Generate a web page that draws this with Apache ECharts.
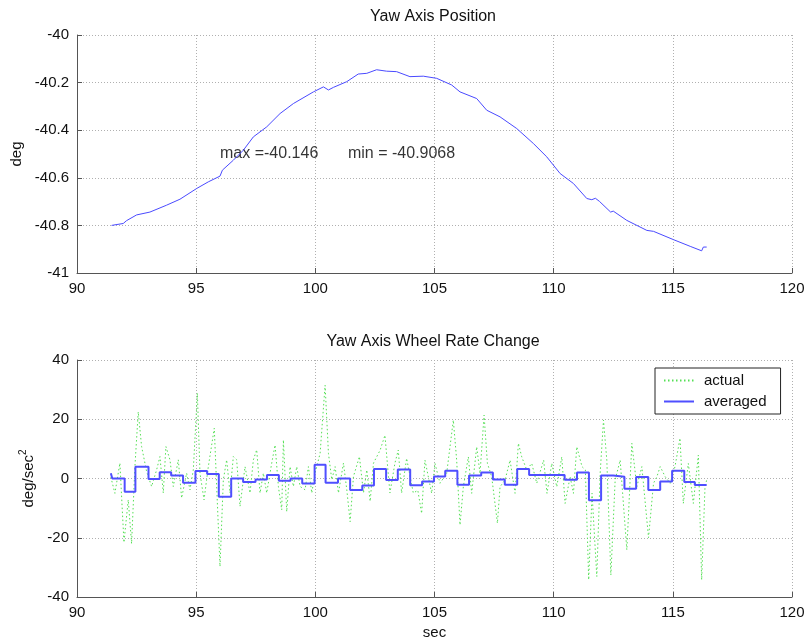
<!DOCTYPE html>
<html>
<head>
	<meta charset="utf-8" />
	<title>Yaw Axis</title>
	<script type="text/javascript" src="https://cdn.jsdelivr.net/npm/echarts@6/dist/echarts.min.js"></script>
	<style>
		html, body { margin: 0; padding: 0; background: #fff; }
		#main { width: 808px; height: 639px; }
	</style>
</head>
<body>
	<div id="main"></div>
	<script type="text/javascript">
		// top plot: yaw axis position (deg) vs time (sec)
		var posTime = [91.45, 91.94, 92.08, 92.5, 93.06, 93.76, 94.32, 95.02, 95.1, 95.51, 96.0, 96.1, 96.56, 96.98, 97.4, 97.96,
			98.52, 99.08, 99.92, 100.34, 100.55, 100.76, 101.32, 101.8, 102.16, 102.57, 102.99, 103.41, 103.97, 104.53, 105.09,
			105.72, 106.07, 106.77, 107.19, 107.75, 108.45, 109.15, 109.71, 110.27, 110.83, 111.39, 111.6, 111.75, 111.92, 112.39,
			112.5, 113.07, 113.91, 114.19, 115.03, 115.73, 116.21, 116.28, 116.42];
		var posDeg = [-40.800, -40.792, -40.780, -40.756, -40.744, -40.715, -40.690, -40.645, -40.652, -40.617, -40.593, -40.568,
			-40.526, -40.484, -40.428, -40.386, -40.330, -40.288, -40.239, -40.218, -40.231, -40.220, -40.196, -40.164, -40.161,
			-40.146, -40.152, -40.154, -40.175, -40.173, -40.182, -40.210, -40.239, -40.267, -40.316, -40.344, -40.393, -40.456,
			-40.512, -40.582, -40.624, -40.687, -40.692, -40.686, -40.699, -40.744, -40.740, -40.779, -40.821, -40.825, -40.860,
			-40.888, -40.9068, -40.891, -40.891];
		var annotX = [96, 101.37];
		var annotText = ['max =-40.146', 'min = -40.9068'];

		// bottom plot: wheel rate change (deg/sec^2)
		var actTime = [91.42, 91.59, 91.80, 91.97, 92.15, 92.29, 92.43, 92.57, 92.71, 92.92, 93.13, 93.34, 93.48, 93.62, 93.73,
			93.90, 94.04, 94.25, 94.39, 94.60, 94.74, 94.88, 95.05, 95.16, 95.33, 95.51, 95.76, 95.86, 96.00, 96.14, 96.28, 96.42,
			96.56, 96.70, 96.84, 97.05, 97.26, 97.40, 97.54, 97.68, 97.82, 97.96, 98.17, 98.31, 98.45, 98.59, 98.66, 98.80, 98.94,
			99.08, 99.22, 99.36, 99.57, 99.71, 99.85, 99.99, 100.20, 100.41, 100.55, 100.69, 100.83, 100.97, 101.18, 101.32,
			101.46, 101.60, 101.85, 102.02, 102.16, 102.30, 102.44, 102.72, 102.92, 103.13, 103.34, 103.48, 103.62, 103.83,
			104.11, 104.30, 104.46, 104.60, 104.88, 105.02, 105.23, 105.51, 105.79, 105.93, 106.07, 106.21, 106.42, 106.56,
			106.77, 106.91, 107.08, 107.22, 107.40, 107.64, 107.75, 107.96, 108.17, 108.38, 108.52, 108.66, 108.87, 109.08,
			109.29, 109.58, 109.72, 109.92, 110.13, 110.34, 110.48, 110.69, 110.83, 110.97, 111.19, 111.33, 111.47, 111.61,
			111.81, 111.95, 112.09, 112.23, 112.40, 112.58, 112.79, 113.07, 113.28, 113.49, 113.70, 113.98, 114.19, 114.33,
			114.47, 114.68, 114.89, 115.09, 115.30, 115.44, 115.65, 115.86, 116.07, 116.21, 116.35, 116.42];
		var actRate = [0.5, -5.0, 5.2, -21.6, -7.2, -22.0, 4.0, 22.5, 10.8, 2.4, -2.7, 2.9, 7.4, -4.9, 10.8,
			6.3, -2.7, 6.3, -6.6, 1.8, -3.8, 2.9, 28.8, 1.8, -7.2, 4.0, 17.0, -2.7, -29.7, -0.4, 6.3, -4.9,
			7.4, 6.3, -9.4, 4.0, -4.9, 6.3, 9.7, -4.9, 1.8, -4.9, 5.2, 11.3, -2.7, -10.6, 13.0, -11.2, 4.0,
			-2.7, 4.0, -2.7, -3.8, 4.0, -4.9, 1.8, 8.5, 31.5, 8.5, -0.4, 4.0, -4.9, 5.2, -3.8,
			-14.6, 0.7, 7.4, -4.9, 2.9, -7.7, 5.2, 9.6, 14.6, -4.9, 5.2, 9.6, -4.9, 6.8,
			-4.9, -4.0, -11.8, 6.2, -5.0, 5.1, -1.6, 1.7, 19.7, 6.2, -15.7, -2.8, 7.3, -5.0,
			10.7, 1.7, 21.4, 5.1, 0.6, -15.1, -2.8, -0.5, 6.2, -5.0, 11.9, 7.3, 2.9, 5.1,
			-1.6, 6.2, -5.0, 5.1, -2.8, 7.3, -8.4, 0.6, -5.0, 10.7, 4.0, 2.9, -34.2, -5.0,
			-33.1, 1.7, 19.7, 6.2, -32.6, -0.5, 6.2, -24.1, 11.9, -2.8, 4.0, -20.0, -1.6, 0.6,
			4.0, 0.6, -1.6, 4.0, 13.6, -8.4, 5.1, -8.4, 7.9, -34.2, -2.8, -0.5];
		var avgTime = [91.42, 91.48, 92.0, 92.45, 93.0, 93.47, 93.95, 94.45, 94.97, 95.46, 95.95, 96.47, 96.97, 97.49, 97.97,
			98.47, 98.96, 99.45, 99.97, 100.43, 100.95, 101.46, 101.97, 102.46, 102.97, 103.46, 103.98, 104.48, 104.98, 105.45,
			105.96, 106.45, 106.96, 107.45, 107.95, 108.47, 108.97, 110.46, 110.98, 111.48, 111.99, 112.5, 112.97, 113.46,
			113.97, 114.47, 114.97, 115.48, 115.92, 116.42];
		var avgRate = [1.8, 0, -4.5, 4.0, -0.2, 2.1, 1.0, -1.4, 2.5, 1.5, -6.2, 0, -1.2, -0.3, 1.2,
			-0.8, 0, -1.7, 4.6, -1.4, 0, -3.9, -2.4, 3.2, -0.5, 3.0, -2.3, -1.0, 0.7, 2.6,
			-2.1, 1.0, 2.0, -0.3, -2.1, 3.2, 1.2, -0.4, 2.0, -7.3, 1.0, 0.6, -3.5, 0.5,
			-3.9, -1.0, 2.6, -1.2, -2.2, -2.2];

		function zip(xs, ys) {
			var out = [];
			for (var i = 0; i < xs.length; i++) {
				out.push([xs[i], ys[i]]);
			}
			return out;
		}

		var font = 'Liberation Sans, Arial, Helvetica, sans-serif';
		var axisLine = { onZero: false, lineStyle: { color: '#555', width: 1 } };
		var axisTick = { inside: true, length: 5, lineStyle: { color: '#555' } };
		var splitLine = { show: true, lineStyle: { color: '#b0b0b0', type: [1, 2], width: 1 } };
		var axisLabel = { color: '#111', fontSize: 15, fontFamily: font, margin: 8 };

		var chart = echarts.init(document.getElementById('main'), null, { renderer: 'canvas' });
		var option = {
			animation: false,
			backgroundColor: '#fff',
			textStyle: { fontFamily: font },
			title: [
				{
					text: 'Yaw Axis Position',
					left: 433, top: 9, textAlign: 'center', padding: 0,
					textStyle: { fontSize: 16, fontWeight: 'normal', color: '#111', fontFamily: font }
				},
				{
					text: 'Yaw Axis Wheel Rate Change',
					left: 433, top: 334, textAlign: 'center', padding: 0,
					textStyle: { fontSize: 16, fontWeight: 'normal', color: '#111', fontFamily: font }
				}
			],
			grid: [
				{ left: 77, right: 16, top: 35, height: 238, outerBoundsMode: 'none', containLabel: false },
				{ left: 77, right: 16, top: 360, height: 237, outerBoundsMode: 'none', containLabel: false }
			],
			legend: {
				left: 655, top: 368,
				orient: 'vertical',
				padding: [5, 14, 5, 8],
				itemGap: 6,
				itemWidth: 30,
				itemHeight: 14,
				borderColor: '#222',
				borderWidth: 1,
				backgroundColor: '#fff',
				itemStyle: { color: 'rgba(0,0,0,0)', borderWidth: 0, opacity: 0 },
				textStyle: { fontSize: 15, color: '#111', fontFamily: font, padding: [0, 0, 0, 5] },
				data: ['actual', 'averaged']
			},
			xAxis: [
				{
					gridIndex: 0, type: 'value', min: 90, max: 120, interval: 5,
					axisLine: axisLine, axisTick: axisTick, splitLine: splitLine, axisLabel: axisLabel
				},
				{
					gridIndex: 1, type: 'value', min: 90, max: 120, interval: 5,
					name: 'sec', nameLocation: 'middle', nameGap: 28,
					nameTextStyle: { fontSize: 15, color: '#111', fontFamily: font },
					axisLine: axisLine, axisTick: axisTick, splitLine: splitLine, axisLabel: axisLabel
				}
			],
			yAxis: [
				{
					gridIndex: 0, type: 'value', min: -41, max: -40, interval: 0.2,
					name: 'deg', nameLocation: 'middle', nameGap: 52,
					nameTextStyle: { fontSize: 15, color: '#111', fontFamily: font },
					axisLine: axisLine, axisTick: axisTick, splitLine: splitLine, axisLabel: axisLabel
				},
				{
					gridIndex: 1, type: 'value', min: -40, max: 40, interval: 20,
					name: '{b|deg/sec}{sup|2}', nameLocation: 'middle', nameGap: 36,
					nameTextStyle: {
						color: '#111', fontFamily: font,
						rich: {
							b: { fontSize: 15, color: '#111', fontFamily: font, verticalAlign: 'bottom', lineHeight: 18 },
							sup: { fontSize: 10, color: '#111', fontFamily: font, verticalAlign: 'top', lineHeight: 18 }
						}
					},
					axisLine: axisLine, axisTick: axisTick, splitLine: splitLine, axisLabel: axisLabel
				}
			],
			series: [
				{
					name: 'position',
					type: 'line',
					xAxisIndex: 0, yAxisIndex: 0,
					showSymbol: false,
					symbol: 'none',
					lineStyle: { color: '#4a4aff', width: 1 },
					data: zip(posTime, posDeg)
				},
				{
					name: 'annotation',
					type: 'scatter',
					xAxisIndex: 0, yAxisIndex: 0,
					symbolSize: 0,
					silent: true,
					label: {
						show: true,
						position: 'right',
						distance: 0,
						fontSize: 16,
						color: '#000',
						fontFamily: font,
						formatter: function (p) { return annotText[p.dataIndex]; }
					},
					data: zip(annotX, [-40.5, -40.5])
				},
				{
					name: 'actual',
					type: 'line',
					xAxisIndex: 1, yAxisIndex: 1,
					showSymbol: false,
					symbol: 'none',
					itemStyle: { color: '#55e055' },
					lineStyle: { color: '#55e055', width: 1, type: [1.5, 2.5] },
					data: zip(actTime, actRate)
				},
				{
					name: 'averaged',
					type: 'line',
					xAxisIndex: 1, yAxisIndex: 1,
					showSymbol: false,
					symbol: 'none',
					step: 'end',
					itemStyle: { color: '#4f4fff' },
					lineStyle: { color: '#4f4fff', width: 2 },
					data: zip(avgTime, avgRate)
				}
			]
		};
		chart.setOption(option);
	</script>
</body>
</html>
